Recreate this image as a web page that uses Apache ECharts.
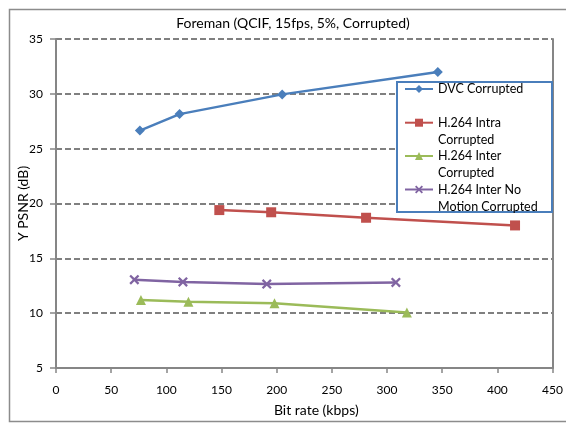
<!DOCTYPE html>
<html>
<head>
<meta charset="utf-8">
<script src="https://cdn.jsdelivr.net/npm/echarts@6/dist/echarts.min.js"></script>
<style>html,body{margin:0;padding:0;background:#fff}#c{width:566px;height:424px}</style>
</head>
<body>
<div id="c"></div>
<script>
// Data (x: bit rate kbps, y: Y PSNR dB)
const dvcX = [76, 112, 205, 346];
const dvcY = [26.65, 28.15, 29.95, 32.0];
const intraX = [148, 195, 281, 416];
const intraY = [19.4, 19.2, 18.7, 18.0];
const interX = [77, 120, 198, 318];
const interY = [11.2, 11.05, 10.9, 10.05];
const noMotionX = [71, 115, 191, 308];
const noMotionY = [13.05, 12.85, 12.65, 12.8];
const seriesNames = ['DVC Corrupted', 'H.264 Intra Corrupted', 'H.264 Inter Corrupted', 'H.264 Inter No Motion Corrupted'];
const legendLabels = ['DVC Corrupted', '\nH.264 Intra\nCorrupted', '\nH.264 Inter\nCorrupted', '\nH.264 Inter No\nMotion Corrupted'];
const xTicks = [0, 450, 50];   // min, max, interval
const yTicks = [5, 35, 5];

const FONT = 'Lato, "Open Sans", sans-serif';
const pairs = (xs, ys) => xs.map((x, i) => [x, ys[i]]);
const crossPath = 'path://M0,1.6L1.6,0L5,3.4L8.4,0L10,1.6L6.6,5L10,8.4L8.4,10L5,6.6L1.6,10L0,8.4L3.4,5Z';

const colors = ['#4a7ebb', '#c0504d', '#9bbb59', '#8064a2'];
const symbols = ['diamond', 'rect', 'triangle', crossPath];
const symSizes = [10, 10, 10, 10];
const datas = [pairs(dvcX, dvcY), pairs(intraX, intraY), pairs(interX, interY), pairs(noMotionX, noMotionY)];
const legendTops = [80.5, 97.2, 130.5, 164];

const chart = echarts.init(document.getElementById('c'), null, {renderer: 'canvas'});
const option = {
  backgroundColor: '#fff',
  animation: false,
  textStyle: {fontFamily: FONT},
  title: {
    text: 'Foreman (QCIF, 15fps, 5%, Corrupted)',
    left: 288, top: 11, textAlign: 'center',
    textStyle: {fontFamily: FONT, fontSize: 14, fontWeight: 'normal', color: '#000'}
  },
  graphic: [
    {type: 'rect', shape: {x: 9.5, y: 9.5, width: 620, height: 412}, style: {fill: null, stroke: '#8c8c8c', lineWidth: 1.5}, z: 0, silent: true},
    {type: 'rect', shape: {x: 397, y: 82, width: 155, height: 130}, style: {fill: '#fff', stroke: '#4a7ebb', lineWidth: 2}, z: 3, silent: true}
  ],
  legend: seriesNames.map((n, i) => ({
    data: [n],
    left: 404, top: legendTops[i], padding: 0,
    itemWidth: 28, itemHeight: 10,
    formatter: () => legendLabels[i],
    textStyle: {fontFamily: FONT, fontSize: 12.5, lineHeight: 17, color: '#000'},
    selectedMode: false, z: 5
  })),
  grid: {left: 56, right: 12, top: 39, bottom: 56, containLabel: false},
  xAxis: {
    type: 'value', min: xTicks[0], max: xTicks[1], interval: xTicks[2],
    name: 'Bit rate (kbps)', nameLocation: 'middle', nameGap: 35, nameMoveOverlap: false,
    nameTextStyle: {fontFamily: FONT, fontSize: 14, color: '#000', padding: [0, 0, 0, 24]},
    axisLine: {lineStyle: {color: '#868686', width: 2}},
    axisTick: {show: true, inside: false, length: 5, lineStyle: {color: '#868686', width: 1.5}},
    axisLabel: {margin: 16, fontFamily: FONT, fontSize: 12, color: '#000'},
    splitLine: {show: false}
  },
  yAxis: [{
    type: 'value', min: yTicks[0], max: yTicks[1], interval: yTicks[2],
    name: 'Y PSNR (dB)', nameLocation: 'middle', nameGap: 26, nameMoveOverlap: false,
    nameTextStyle: {fontFamily: FONT, fontSize: 14, color: '#000'},
    axisLine: {show: true, lineStyle: {color: '#868686', width: 2}},
    axisTick: {show: true, inside: false, length: 6, lineStyle: {color: '#868686', width: 1.5}},
    axisLabel: {margin: 13, fontFamily: FONT, fontSize: 12, color: '#000'},
    splitLine: {show: true, lineStyle: {color: '#808080', width: 2, type: [6, 3]}}
  }, {
    type: 'value', min: yTicks[0], max: yTicks[1], interval: yTicks[2], position: 'right',
    axisLine: {show: true, lineStyle: {color: '#868686', width: 2}},
    axisTick: {show: false}, axisLabel: {show: false}, splitLine: {show: false}
  }],
  series: seriesNames.map((n, i) => ({
    name: n, type: 'line', data: datas[i],
    symbol: symbols[i], symbolSize: symSizes[i], showSymbol: true,
    lineStyle: {color: colors[i], width: 2.5},
    itemStyle: {color: colors[i], borderWidth: 0},
    z: 2
  }))
};
chart.setOption(option);
</script>
</body>
</html>
